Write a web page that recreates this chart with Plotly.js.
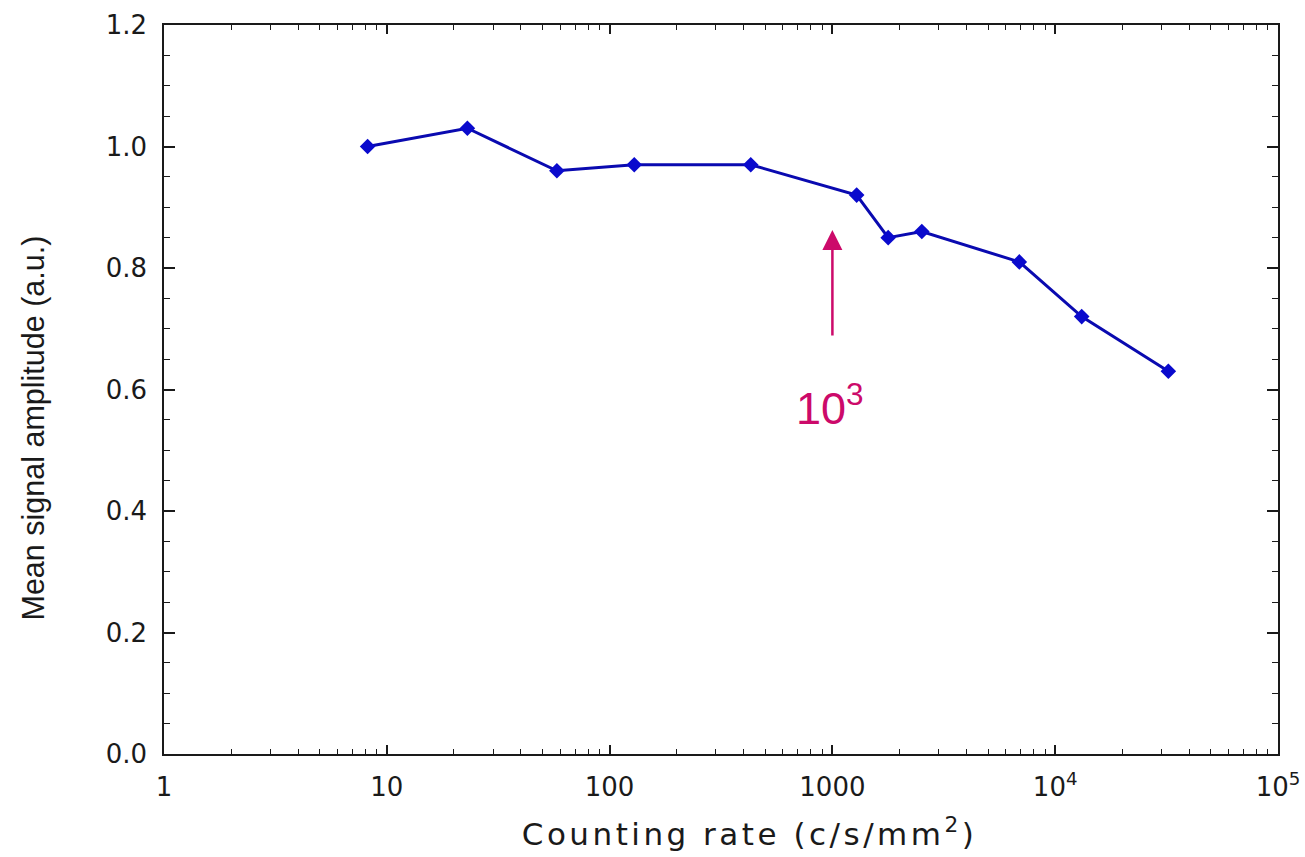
<!DOCTYPE html>
<html>
<head>
<meta charset="utf-8">
<script src="https://cdn.plot.ly/plotly-3.0.1.min.js"></script>
<style>
  html, body { margin: 0; padding: 0; background: #ffffff; }
  #chart { width: 1305px; height: 857px; }
  .annotation[data-index="3"] .annotation-text { letter-spacing: 3.5px; }
</style>
</head>
<body>
<div id="chart"></div>
<script>
// Data
const countingRate = [8.2, 23, 58, 129, 430, 1285, 1780, 2520, 6900, 13150, 32200];
const meanAmplitude = [1.00, 1.03, 0.96, 0.97, 0.97, 0.92, 0.85, 0.86, 0.81, 0.72, 0.63];

// Axis tick labels
const xTickVals = [1, 10, 100, 1000, 10000, 100000];
const xTickText = ['1', '10', '100', '1000', '10<sup>4</sup>', '10<sup>5</sup>'];

// Arrow annotation marker (counting rate of 10^3)
const arrowRate = 1000;
const arrowTip = 0.8626;
const arrowTail = 0.675;
const arrowLabel = '10<sup>3</sup>';

const xMinorVals = [];
for (let d = 0; d < 5; d++) {
  for (let k = 2; k <= 9; k++) xMinorVals.push(k * Math.pow(10, d));
}

const fontA = 'Liberation Sans, Arial, Helvetica, sans-serif';
const fontW = 'DejaVu Sans, Verdana, sans-serif';
const axisColor = '#1a1a1a';
const textColor = '#1a1a1a';
const accent = '#cc0a6a';

const trace = {
  x: countingRate,
  y: meanAmplitude,
  type: 'scatter',
  mode: 'lines+markers',
  line: { color: '#0a0ab0', width: 3 },
  marker: { symbol: 'diamond', size: 12, color: '#0a0acd', line: { width: 0 } },
  showlegend: false,
  hoverinfo: 'x+y'
};

const layout = {
  width: 1305,
  height: 857,
  paper_bgcolor: '#ffffff',
  plot_bgcolor: '#ffffff',
  margin: { l: 164, r: 27, t: 25, b: 103 },
  font: { family: fontA, color: textColor },
  xaxis: {
    type: 'log',
    range: [0, 5],
    tickmode: 'array',
    tickvals: xTickVals,
    ticktext: xTickText,
    ticks: 'inside',
    ticklen: 9,
    tickwidth: 1.5,
    tickcolor: axisColor,
    minor: { tickmode: 'array', tickvals: xMinorVals, ticks: 'inside', ticklen: 5, tickwidth: 1.2, tickcolor: axisColor, showgrid: false },
    showline: true,
    linecolor: axisColor,
    linewidth: 1.5,
    mirror: 'ticks',
    showgrid: false,
    zeroline: false,
    tickfont: { size: 26, family: fontW, color: textColor },
    ticklabelstandoff: 9,
    automargin: false
  },
  yaxis: {
    range: [0, 1.2],
    tickmode: 'linear',
    tick0: 0,
    dtick: 0.2,
    tickformat: '.1f',
    ticks: 'inside',
    ticklen: 11,
    tickwidth: 1.5,
    tickcolor: axisColor,
    minor: { dtick: 0.05, ticks: 'inside', ticklen: 6, tickwidth: 1.2, tickcolor: axisColor, showgrid: false },
    showline: true,
    linecolor: axisColor,
    linewidth: 1.5,
    mirror: 'ticks',
    showgrid: false,
    zeroline: false,
    tickfont: { size: 26, family: fontW, color: textColor },
    ticklabelstandoff: 10,
    automargin: false
  },
  annotations: [
    {
      x: Math.log10(arrowRate), y: arrowTip, xref: 'x', yref: 'y',
      ax: Math.log10(arrowRate), ay: arrowTail, axref: 'x', ayref: 'y',
      text: ' ', showarrow: true, arrowhead: 2, arrowsize: 1.6, arrowwidth: 2.5,
      arrowcolor: accent, standoff: 0, startstandoff: 0
    },
    {
      x: Math.log10(arrowRate), y: 0.574, xref: 'x', yref: 'y', xshift: -2,
      text: arrowLabel, showarrow: false, xanchor: 'center', yanchor: 'middle',
      font: { size: 45, family: fontA, color: accent }
    },
    {
      x: (33 - 164) / 1114, y: (754 - 428.5) / 729, xref: 'paper', yref: 'paper',
      text: 'Mean signal amplitude (a.u.)', textangle: -90, showarrow: false,
      xanchor: 'center', yanchor: 'middle',
      font: { size: 30.5, family: fontA, color: textColor }
    },
    {
      x: (749 - 164) / 1114, y: (754 - 832) / 729, xref: 'paper', yref: 'paper',
      text: 'Counting rate (c/s/mm<sup>2</sup>)', showarrow: false,
      xanchor: 'center', yanchor: 'middle',
      font: { size: 31, family: fontW, color: textColor }
    }
  ]
};

Plotly.newPlot('chart', [trace], layout, { displayModeBar: false });
</script>
</body>
</html>
